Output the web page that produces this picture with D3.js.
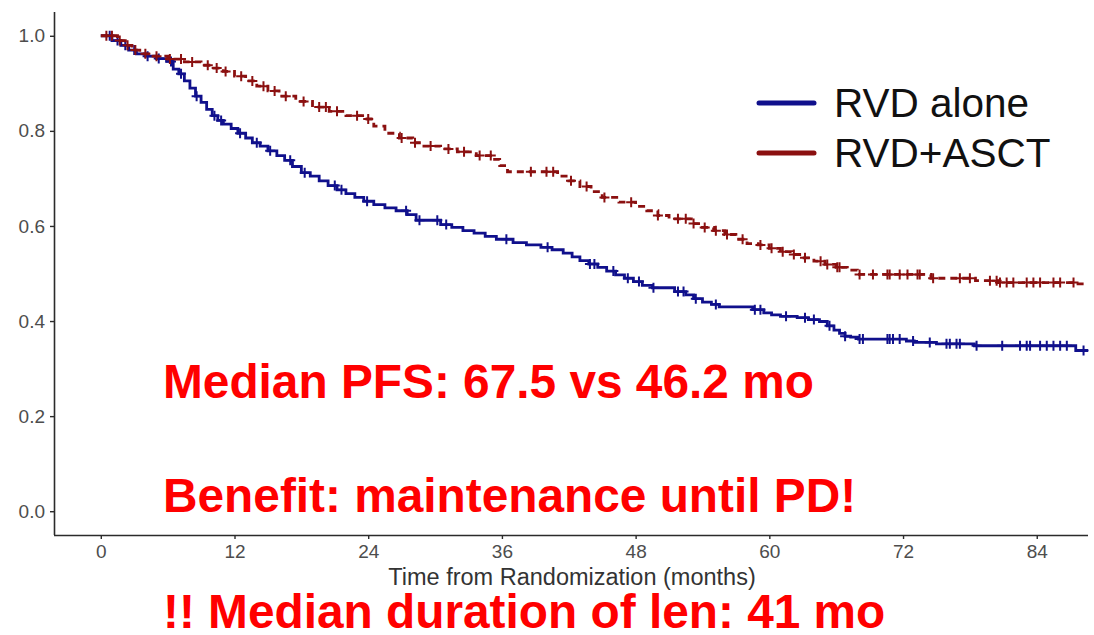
<!DOCTYPE html>
<html>
<head>
<meta charset="utf-8">
<script src="https://cdn.jsdelivr.net/npm/d3@7"></script>
<style>
  html, body { margin: 0; padding: 0; background: #ffffff; }
  svg { display: block; }
</style>
</head>
<body>
<svg id="chart" width="1094" height="635"></svg>
<script>
// Kaplan-Meier progression-free survival, RVD alone vs RVD + ASCT
const seriesNames = ["RVD alone", "RVD+ASCT"];
const seriesColors = ["#10108c", "#8b1010"];

// RVD alone: step times (months) and survival after each step
const rvdTimes = [0, 1.0, 1.8, 2.5, 3.2, 4.0, 5.0, 5.9, 6.5, 7.0, 7.5, 8.0, 8.5, 9.0, 9.5, 10.0, 10.5, 11.0, 11.7, 12.3,
  13.0, 13.6, 14.3, 15.0, 15.8, 16.5, 17.2, 18.0, 18.8, 19.6, 20.4, 21.2, 22.0, 22.8, 23.6, 24.5, 25.5, 26.5, 27.5, 28.3,
  30.5, 31.5, 32.5, 33.5, 34.5, 35.5, 37.0, 38.2, 39.5, 40.5, 41.5, 42.3, 43.0, 43.8, 44.6, 45.4, 46.2, 47.0, 47.8, 48.6,
  49.5, 51.5, 52.5, 53.2, 54.0, 54.8, 55.5, 58.5, 59.5, 60.2, 61.0, 62.5, 63.5, 64.5, 65.2, 65.8, 66.3, 66.8, 67.3, 68.0,
  72.3, 73.0, 75.0, 78.4, 87.5];
const rvdSurv = [1.0, 0.99, 0.98, 0.97, 0.962, 0.957, 0.952, 0.946, 0.93, 0.92, 0.905, 0.89, 0.873, 0.86, 0.845, 0.832, 0.822, 0.814, 0.805, 0.795,
  0.785, 0.775, 0.768, 0.758, 0.748, 0.738, 0.725, 0.712, 0.705, 0.695, 0.685, 0.676, 0.668, 0.66, 0.652, 0.645, 0.638, 0.632, 0.624, 0.612,
  0.603, 0.597, 0.59, 0.585, 0.578, 0.572, 0.565, 0.56, 0.555, 0.55, 0.543, 0.535, 0.527, 0.52, 0.513, 0.505, 0.497, 0.49, 0.483, 0.475,
  0.47, 0.462, 0.455, 0.447, 0.44, 0.435, 0.43, 0.424, 0.417, 0.413, 0.41, 0.407, 0.403, 0.399, 0.39, 0.381, 0.374, 0.368, 0.366, 0.362,
  0.358, 0.355, 0.352, 0.348, 0.338];
const rvdCensored = [0.8, 1.5, 2.2, 3.0, 4.2, 5.2, 6.3, 7.2, 8.6, 10.2, 10.8, 12.5, 14.0, 15.2, 17.0, 18.3, 21.0, 21.6, 23.9, 27.4,
  28.6, 30.2, 31.0, 36.4, 40.1, 43.9, 44.3, 46.0, 47.3, 48.3, 49.6, 51.8, 52.3, 53.4, 55.2, 58.7, 59.2, 61.5, 63.2, 64.0,
  65.4, 66.8, 68.1, 68.4, 70.6, 70.8, 71.1, 71.7, 72.9, 74.4, 75.9, 76.2, 76.8, 77.1, 78.6, 80.9, 82.5, 83.1, 83.4, 84.3,
  84.9, 85.5, 86.1, 86.7, 88.2];

// RVD + ASCT: step times (months) and survival after each step
const asctTimes = [0, 1.5, 2.2, 2.8, 3.5, 4.5, 6.0, 7.5, 9.0, 10.0, 11.0, 12.0, 13.0, 14.0, 15.0, 16.0, 17.5, 19.0, 20.5, 22.0,
  23.5, 24.5, 25.5, 26.8, 28.0, 29.0, 30.5, 32.0, 33.7, 35.2, 35.8, 36.5, 41.0, 42.0, 43.0, 44.0, 45.0, 46.5, 48.0, 49.0,
  50.0, 51.0, 53.0, 54.0, 55.0, 56.0, 57.0, 58.0, 59.0, 60.0, 61.0, 62.0, 63.0, 64.0, 65.0, 66.0, 67.0, 67.9, 74.5, 78.5,
  80.5, 87.5];
const asctSurv = [1.0, 0.99, 0.98, 0.97, 0.962, 0.957, 0.951, 0.945, 0.938, 0.932, 0.925, 0.915, 0.905, 0.894, 0.884, 0.873, 0.862, 0.85, 0.841, 0.832,
  0.825, 0.81, 0.795, 0.785, 0.775, 0.768, 0.762, 0.756, 0.748, 0.74, 0.727, 0.714, 0.705, 0.695, 0.683, 0.672, 0.66, 0.65, 0.641, 0.632,
  0.622, 0.615, 0.605, 0.597, 0.59, 0.582, 0.572, 0.563, 0.56, 0.553, 0.546, 0.54, 0.533, 0.526, 0.519, 0.513, 0.507, 0.498, 0.49, 0.485,
  0.481, 0.478];
const asctCensored = [0.5, 1.0, 1.7, 2.4, 3.1, 4.0, 5.0, 6.2, 7.2, 8.2, 9.6, 10.4, 11.2, 12.6, 13.6, 14.6, 15.6, 16.6, 18.2, 19.6,
  20.2, 21.2, 23.0, 24.0, 27.0, 28.2, 29.6, 31.2, 32.6, 34.0, 35.0, 38.6, 40.0, 40.6, 42.2, 43.6, 45.2, 47.6, 50.0, 51.8,
  52.5, 53.2, 54.2, 55.2, 56.2, 57.6, 59.2, 60.2, 61.2, 62.2, 63.2, 64.6, 65.2, 66.1, 66.3, 68.1, 69.3, 70.6, 70.8, 71.7,
  72.4, 73.3, 73.5, 74.7, 77.1, 78.0, 79.8, 80.4, 80.7, 81.3, 81.9, 83.1, 83.7, 84.3, 85.5, 86.1, 87.3];

const xTicks = [0, 12, 24, 36, 48, 60, 72, 84];
const yTicks = [0.0, 0.2, 0.4, 0.6, 0.8, 1.0];
const xTitle = "Time from Randomization (months)";
const notes = ["Median PFS: 67.5 vs 46.2 mo", "Benefit: maintenance until PD!", "!! Median duration of len: 41 mo"];

const svg = d3.select("#chart");
const plot = { left: 54, right: 1088, top: 12, bottom: 535 };

const x = d3.scaleLinear().domain([-4.2, 88.6]).range([plot.left, plot.right]);
const y = d3.scaleLinear().domain([-0.05, 1.05]).range([plot.bottom, plot.top]);

// axes
const axisColor = "#2b2b2b";
const tickTextColor = "#4d4d4d";

const gx = svg.append("g")
  .attr("transform", `translate(0,${plot.bottom})`)
  .call(d3.axisBottom(x).tickValues(xTicks).tickFormat(d3.format("d")).tickSize(4).tickPadding(6).tickSizeOuter(0));
const gy = svg.append("g")
  .attr("transform", `translate(${plot.left},0)`)
  .call(d3.axisLeft(y).tickValues(yTicks).tickFormat(d3.format(".1f")).tickSize(4).tickPadding(5).tickSizeOuter(0));

[gx, gy].forEach(g => {
  g.select(".domain").attr("stroke", axisColor).attr("stroke-width", 1.6);
  g.selectAll(".tick line").attr("stroke", axisColor).attr("stroke-width", 1.4);
  g.selectAll(".tick text")
    .attr("fill", tickTextColor)
    .style("font-family", "'Liberation Sans', Arial, sans-serif")
    .style("font-size", "19px");
});
gy.select(".domain").attr("d", `M0.5,${plot.top}V${plot.bottom}`);
gx.select(".domain").attr("d", `M${plot.left},0.5H${plot.right}`);

svg.append("text")
  .attr("x", 572)
  .attr("y", 585)
  .attr("text-anchor", "middle")
  .attr("fill", "#333333")
  .style("font-family", "'Liberation Sans', Arial, sans-serif")
  .style("font-size", "23.5px")
  .text(xTitle);

// survival curves
const curves = [
  { times: rvdTimes, surv: rvdSurv, cens: rvdCensored, color: seriesColors[0], dash: null, end: 88.6 },
  { times: asctTimes, surv: asctSurv, cens: asctCensored, color: seriesColors[1], dash: "7,5", end: 88.6 }
];

const stepLine = d3.line()
  .x(d => x(d[0]))
  .y(d => y(d[1]))
  .curve(d3.curveStepAfter);

const bisect = d3.bisector(d => d).right;

curves.forEach(c => {
  const pts = c.times.map((t, i) => [t, c.surv[i]]);
  pts.push([c.end, c.surv[c.surv.length - 1]]);
  svg.append("path")
    .datum(pts)
    .attr("fill", "none")
    .attr("stroke", c.color)
    .attr("stroke-width", 2.8)
    .attr("stroke-dasharray", c.dash)
    .attr("d", stepLine);

  // censoring ticks at the survival level in effect at each censor time
  const survAt = t => c.surv[Math.max(0, bisect(c.times, t) - 1)];
  const half = 5;
  svg.append("g")
    .selectAll("path")
    .data(c.cens)
    .join("path")
    .attr("fill", "none")
    .attr("stroke", c.color)
    .attr("stroke-width", 2)
    .attr("d", t => {
      const cx = x(t), cy = y(survAt(t));
      return `M${cx - half},${cy}H${cx + half}M${cx},${cy - half}V${cy + half}`;
    });
});

// legend
const legend = svg.append("g");
seriesNames.forEach((name, i) => {
  const ly = 103 + i * 50;
  legend.append("line")
    .attr("x1", 759).attr("x2", 814)
    .attr("y1", ly).attr("y2", ly)
    .attr("stroke", seriesColors[i])
    .attr("stroke-width", 5)
    .attr("stroke-linecap", "round");
  legend.append("text")
    .attr("x", 834)
    .attr("y", ly + 14)
    .attr("fill", "#111111")
    .style("font-family", "'Liberation Sans', Arial, sans-serif")
    .style("font-size", "40.5px")
    .text(name);
});

// red annotations
const noteY = [398, 512, 628];
notes.forEach((t, i) => {
  svg.append("text")
    .attr("x", 163)
    .attr("y", noteY[i])
    .attr("fill", "#ff0000")
    .style("font-family", "'Liberation Sans', Arial, sans-serif")
    .style("font-weight", "bold")
    .style("font-size", "47.8px")
    .text(t);
});
</script>
</body>
</html>
